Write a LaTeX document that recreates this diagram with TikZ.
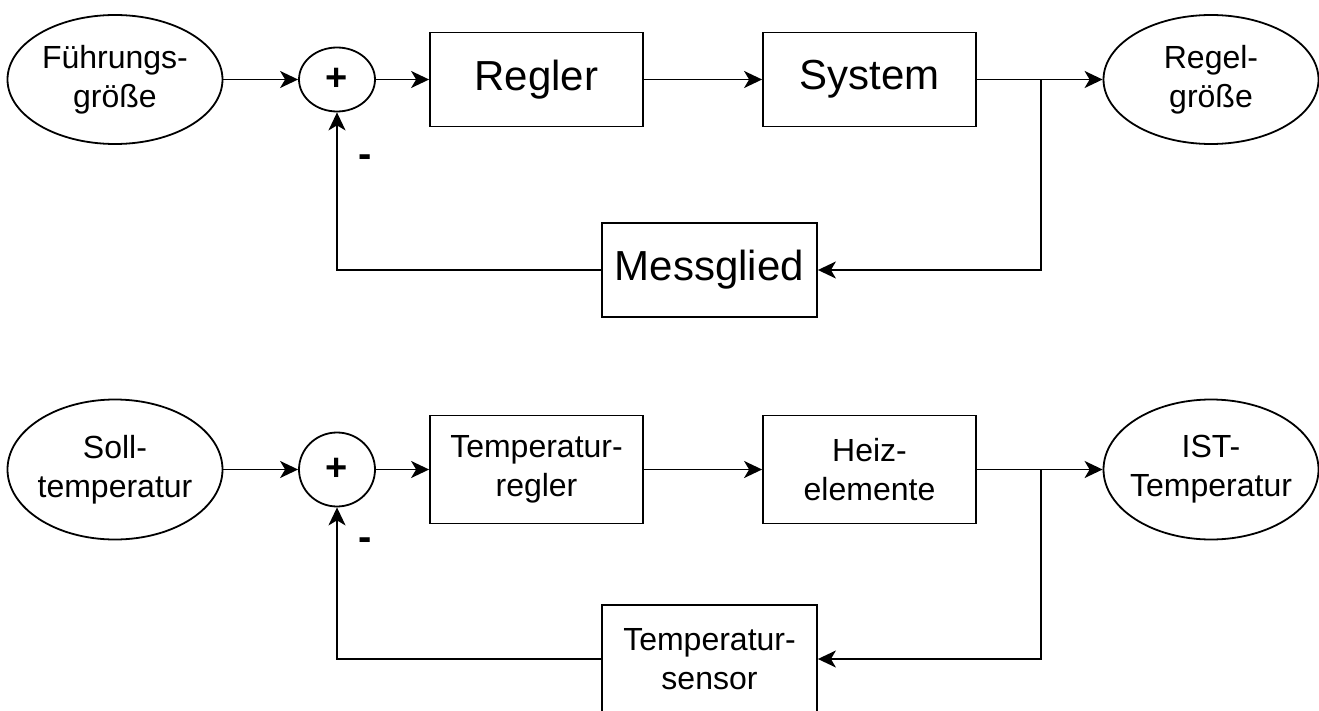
\documentclass[tikz,border=0pt]{standalone}
\usepackage{fontspec}
\setmainfont{Liberation Sans}
\usetikzlibrary{arrows.meta,shapes.geometric}
\begin{document}
\begin{tikzpicture}[x=1pt,y=-1pt,
  line width=1.8pt,
  arr/.style={-{Stealth[length=18pt,width=17pt,inset=5pt]}},
  smallfont/.style={font=\fontsize{32}{39}\selectfont},
  bigfont/.style={font=\fontsize{42}{50}\selectfont},
  ell/.style={ellipse, draw, minimum width=215pt, inner sep=-25pt, align=center, smallfont},
  blk/.style={rectangle, draw, minimum width=213pt, inner sep=0pt, align=center},
  sumnode/.style={ellipse, draw, minimum width=76pt, inner sep=0pt, font=\fontsize{38}{40}\selectfont\bfseries},
  minus/.style={font=\fontsize{40}{40}\selectfont\bfseries, inner sep=0pt},
]
\useasboundingbox (0,0) rectangle (1319,711);

% ---------- top diagram ----------
\node[ell, minimum height=129pt] (f1) at (115,79.5) {Führungs-\\größe};
\node[sumnode, minimum height=64pt] (s1) at (337,79.5) {+};
\node[blk, bigfont, minimum height=94pt] (r1) at (536.5,79.5) {Regler};
\node[blk, bigfont, minimum height=94pt] (y1) at (869.5,79.5) {System};
\node[ell, minimum height=129pt] (g1) at (1211,79.5) {Regel-\\größe};
\node[blk, bigfont, minimum width=215pt, minimum height=94pt] (m1) at (709.5,270) {Messglied};
\coordinate (j1) at (1041,79.5);
\node[minus] (n1) at (365,161) {-};

\draw[arr] (f1.east) -- (s1.west);
\draw[arr] (s1.east) -- (r1.west);
\draw[arr] (r1.east) -- (y1.west);
\draw[arr] (y1.east) -- (g1.west);
\draw[arr] (j1) |- (m1.east);
\draw[arr] (m1.west) -| (s1.south);

% ---------- bottom diagram ----------
\node[ell, minimum height=140pt] (f2) at (115,469.5) {Soll-\\temperatur};
\node[sumnode, minimum height=74pt] (s2) at (337,469.5) {+};
\node[blk, smallfont, minimum height=108pt] (r2) at (536.5,469.5) {Temperatur-\\regler};
\node[blk, smallfont, minimum height=108pt] (y2) at (869.5,469.5) {Heiz-\\elemente};
\node[ell, minimum height=140pt] (g2) at (1211,469.5) {IST-\\Temperatur};
\node[blk, smallfont, minimum width=215pt, minimum height=108pt] (m2) at (709.5,659) {Temperatur-\\sensor};
\coordinate (j2) at (1041,469.5);
\node[minus] (n2) at (365,544) {-};

\draw[arr] (f2.east) -- (s2.west);
\draw[arr] (s2.east) -- (r2.west);
\draw[arr] (r2.east) -- (y2.west);
\draw[arr] (y2.east) -- (g2.west);
\draw[arr] (j2) |- (m2.east);
\draw[arr] (m2.west) -| (s2.south);
\end{tikzpicture}
\end{document}
